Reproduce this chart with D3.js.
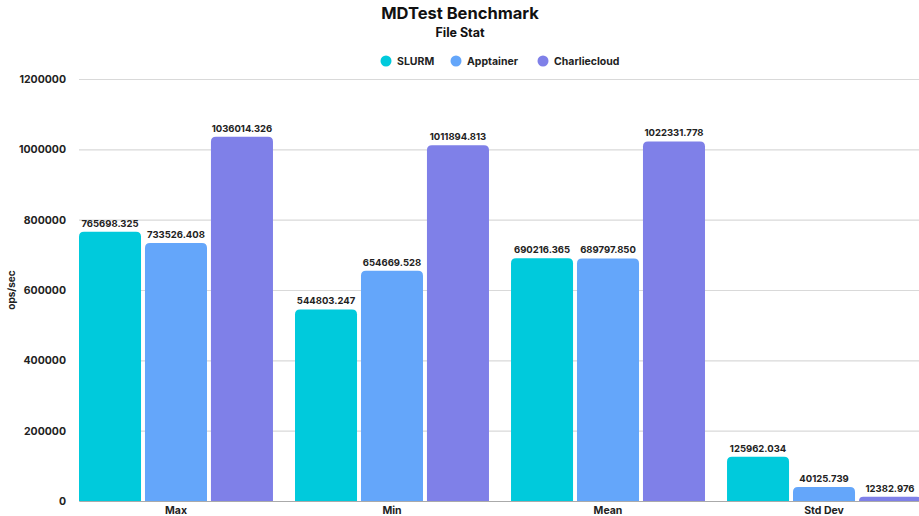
<!DOCTYPE html>
<html>
<head>
<meta charset="utf-8">
<script src="https://cdn.jsdelivr.net/npm/d3@7"></script>
<style>
  body { margin: 0; background: #fff; }
  svg { display: block; font-family: "Inter", "Open Sans", sans-serif; }
</style>
</head>
<body>
<svg id="chart" width="919" height="516"></svg>
<script>
const categories = ["Max", "Min", "Mean", "Std Dev"];
const seriesNames = ["SLURM", "Apptainer", "Charliecloud"];
const slurm = [765698.325, 544803.247, 690216.365, 125962.034];
const apptainer = [733526.408, 654669.528, 689797.850, 40125.739];
const charliecloud = [1036014.326, 1011894.813, 1022331.778, 12382.976];
const yTicks = [0, 200000, 400000, 600000, 800000, 1000000, 1200000];
const colors = ["#00CADC", "#64A6FA", "#7F80E8"];

const seriesValues = [slurm, apptainer, charliecloud];
const rows = categories.map((c, i) => ({
  category: c,
  values: seriesNames.map((s, j) => ({ series: s, value: seriesValues[j][i] }))
}));

const svg = d3.select("#chart");

const x = d3.scaleBand().domain(categories).range([79, 921]).paddingInner(0.102).paddingOuter(0);
const xs = d3.scaleBand().domain(seriesNames).range([0, x.bandwidth()]).paddingInner(0.06);
const y = d3.scaleLinear().domain([0, 1200000]).range([501, 79]);
const color = d3.scaleOrdinal().domain(seriesNames).range(colors);

// title
svg.append("text").attr("x", 460).attr("y", 19).attr("text-anchor", "middle")
  .style("font-size", "16.5px").style("font-weight", 700).attr("fill", "#111")
  .text("MDTest Benchmark");
svg.append("text").attr("x", 460).attr("y", 37).attr("text-anchor", "middle")
  .style("font-size", "12.5px").style("font-weight", 700).attr("fill", "#111")
  .text("File Stat");

// legend
const legendX = [386, 456, 543];
const legend = svg.append("g").selectAll("g").data(seriesNames).enter().append("g")
  .attr("transform", (d, i) => `translate(${legendX[i]},61)`);
legend.append("circle").attr("r", 5.5).attr("fill", d => color(d));
legend.append("text").attr("x", 11).attr("dy", "0.35em")
  .style("font-size", "10.5px").style("font-weight", 700).attr("fill", "#222")
  .text(d => d);

// grid + y axis labels
const yAxis = svg.append("g").attr("transform", "translate(79,0)")
  .call(d3.axisLeft(y).tickValues(yTicks).tickSize(-842).tickFormat(d3.format("d")).tickPadding(13));
yAxis.select(".domain").remove();
yAxis.selectAll(".tick line").attr("stroke", "#d9d9d9").attr("stroke-width", 1.2);
yAxis.selectAll(".tick text").style("font-size", "10.5px").style("font-weight", 700)
  .attr("fill", "#222").style("font-family", "Inter, sans-serif");

// y title
svg.append("text").attr("transform", "translate(15,290) rotate(-90)").attr("text-anchor", "middle")
  .style("font-size", "10px").style("font-weight", 700).attr("fill", "#222").text("ops/sec");

// bars
function topRounded(x0, y0, w, h, r) {
  r = Math.min(r, h, w / 2);
  return `M${x0},${y0 + h}V${y0 + r}Q${x0},${y0} ${x0 + r},${y0}H${x0 + w - r}Q${x0 + w},${y0} ${x0 + w},${y0 + r}V${y0 + h}Z`;
}
const groups = svg.append("g").selectAll("g").data(rows).enter().append("g")
  .attr("transform", d => `translate(${x(d.category)},0)`);
groups.selectAll("path").data(d => d.values).enter().append("path")
  .attr("d", d => topRounded(xs(d.series), y(d.value), xs.bandwidth(), y(0) - y(d.value), 5))
  .attr("fill", d => color(d.series));
groups.selectAll("text").data(d => d.values).enter().append("text")
  .attr("x", d => xs(d.series) + xs.bandwidth() / 2)
  .attr("y", d => y(d.value) - 5)
  .attr("text-anchor", "middle")
  .style("font-size", "9.5px").style("font-weight", 700).attr("fill", "#222")
  .text(d => d3.format(".3f")(d.value));

// x axis
const xAxis = svg.append("g").attr("transform", "translate(0,501)")
  .call(d3.axisBottom(x).tickSize(0).tickPadding(6));
xAxis.select(".domain").attr("stroke", "#aaa").attr("stroke-width", 1.2);
xAxis.selectAll(".tick text").style("font-size", "10.5px").style("font-weight", 700)
  .attr("fill", "#222").style("font-family", "Inter, sans-serif");
</script>
</body>
</html>
